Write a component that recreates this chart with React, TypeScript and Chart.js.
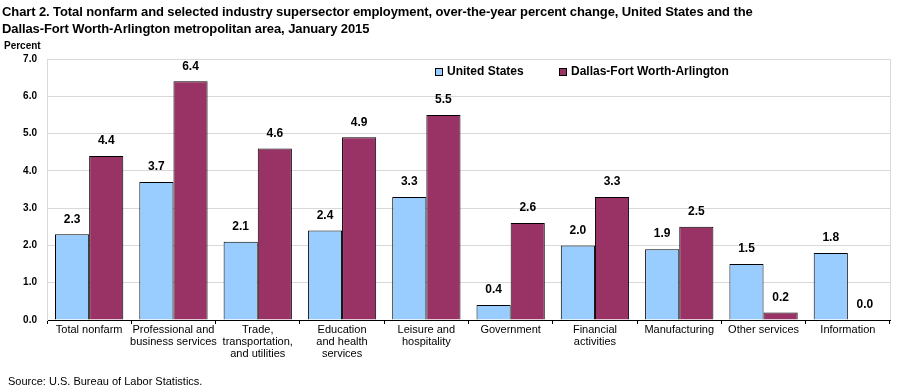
import React, { useEffect, useRef } from "react";
import { Chart, registerables } from "chart.js";

Chart.register(...registerables);

const categories: (string | string[])[] = [
  "Total nonfarm",
  ["Professional and", "business services"],
  ["Trade,", "transportation,", "and utilities"],
  ["Education", "and health", "services"],
  ["Leisure and", "hospitality"],
  "Government",
  ["Financial", "activities"],
  "Manufacturing",
  "Other services",
  "Information",
];
const unitedStates = [2.3, 3.7, 2.1, 2.4, 3.3, 0.4, 2.0, 1.9, 1.5, 1.8];
const dallas = [4.4, 6.4, 4.6, 4.9, 5.5, 2.6, 3.3, 2.5, 0.2, 0.0];
const seriesNames = ["United States", "Dallas-Fort Worth-Arlington"];
const colors = ["#99CCFF", "#993366"];
const yMax = 7;
const yStep = 1;

const valueLabels = {
  id: "valueLabels",
  afterDatasetsDraw(chart: any) {
    const ctx = chart.ctx;
    ctx.save();
    ctx.font = "bold 12px 'Liberation Sans', Arial, sans-serif";
    ctx.fillStyle = "#000";
    ctx.textAlign = "center";
    ctx.textBaseline = "middle";
    chart.data.datasets.forEach((ds: any, di: number) => {
      const meta = chart.getDatasetMeta(di);
      meta.data.forEach((bar: any, i: number) => {
        const v = ds.data[i];
        ctx.fillText(v.toFixed(1), bar.x, bar.y - 15);
      });
    });
    ctx.restore();
  },
};

const frameAndLegend = {
  id: "frameAndLegend",
  beforeDatasetsDraw(chart: any) {
    const ctx = chart.ctx;
    const a = chart.chartArea;
    ctx.save();
    ctx.strokeStyle = "#D9D9D9";
    ctx.lineWidth = 1;
    ctx.beginPath();
    const x = Math.round(a.right) + 0.5;
    ctx.moveTo(x, a.top);
    ctx.lineTo(x, a.bottom);
    ctx.stroke();
    ctx.restore();
  },
  afterDraw(chart: any) {
    const ctx = chart.ctx;
    ctx.save();
    ctx.font = "bold 12px 'Liberation Sans', Arial, sans-serif";
    ctx.textBaseline = "middle";
    const xs = [435, 559];
    const y = 72;
    seriesNames.forEach((name, i) => {
      ctx.fillStyle = colors[i];
      ctx.fillRect(xs[i], y - 4, 8, 8);
      ctx.strokeStyle = "#000";
      ctx.lineWidth = 1;
      ctx.strokeRect(xs[i] + 0.5, y - 3.5, 7, 7);
      ctx.fillStyle = "#000";
      ctx.textAlign = "left";
      ctx.fillText(name, xs[i] + 12, y);
    });
    ctx.restore();
  },
};

export default function App() {
  const ref = useRef<HTMLCanvasElement>(null);
  useEffect(() => {
    if (!ref.current) return;
    const ds = (i: number, data: number[]) => ({
      label: seriesNames[i],
      data,
      backgroundColor: colors[i],
      borderColor: "#000",
      borderWidth: 1,
      borderSkipped: "bottom",
      categoryPercentage: 0.81,
      barPercentage: 1,
    });
    const chart = new Chart(ref.current, {
      type: "bar",
      data: {
        labels: categories,
        datasets: [ds(0, unitedStates), ds(1, dallas)],
      },
      options: {
        animation: false,
        responsive: false,
        maintainAspectRatio: false,
        layout: { padding: { top: 59, right: 11, left: 0, bottom: 0 } },
        plugins: { legend: { display: false }, tooltip: { enabled: false } },
        scales: {
          x: {
            offset: true,
            grid: {
              offset: true,
              drawOnChartArea: false,
              drawTicks: true,
              tickLength: 4,
              color: "#000",
            },
            border: { color: "#000", width: 1 },
            ticks: {
              color: "#000",
              font: { family: "'Liberation Sans', Arial, sans-serif", size: 11, lineHeight: 1.1 },
              padding: 0,
              maxRotation: 0,
              autoSkip: false,
            },
            afterFit(scale: any) {
              scale.height = 72;
            },
          },
          y: {
            min: 0,
            max: yMax,
            grid: { color: "#D9D9D9", drawTicks: false, lineWidth: 1 },
            border: { color: "#D9D9D9", width: 1 },
            ticks: {
              stepSize: yStep,
              color: "#000",
              padding: 10,
              font: { family: "'Liberation Sans', Arial, sans-serif", size: 10, weight: "bold" },
              callback: (v: any) => Number(v).toFixed(1),
            },
            afterFit(scale: any) {
              scale.width = 47;
            },
          },
        },
      },
      plugins: [valueLabels, frameAndLegend],
    } as any);
    return () => chart.destroy();
  }, []);

  return (
    <div style={{ position: "fixed", left: 0, top: 0, width: 901, height: 392, background: "#fff" }}>
      <div
        style={{
          position: "absolute",
          left: 2,
          top: 3,
          fontFamily: "'Liberation Sans', Arial, sans-serif",
          fontWeight: "bold",
          fontSize: 13,
          lineHeight: "17px",
          color: "#000",
          whiteSpace: "nowrap",
          letterSpacing: "-0.1px",
        }}
      >
        Chart 2. Total nonfarm and selected industry supersector employment, over-the-year percent change, United States and the
        <br />
        Dallas-Fort Worth-Arlington metropolitan area, January 2015
      </div>
      <div
        style={{
          position: "absolute",
          left: 4,
          top: 40,
          fontFamily: "'Liberation Sans', Arial, sans-serif",
          fontWeight: "bold",
          fontSize: 10,
          color: "#000",
        }}
      >
        Percent
      </div>
      <canvas ref={ref} width={901} height={392} style={{ display: "block" }} />
      <div
        style={{
          position: "absolute",
          left: 8,
          top: 375,
          fontFamily: "'Liberation Sans', Arial, sans-serif",
          fontSize: 11,
          color: "#000",
        }}
      >
        Source: U.S. Bureau of Labor Statistics.
      </div>
    </div>
  );
}
